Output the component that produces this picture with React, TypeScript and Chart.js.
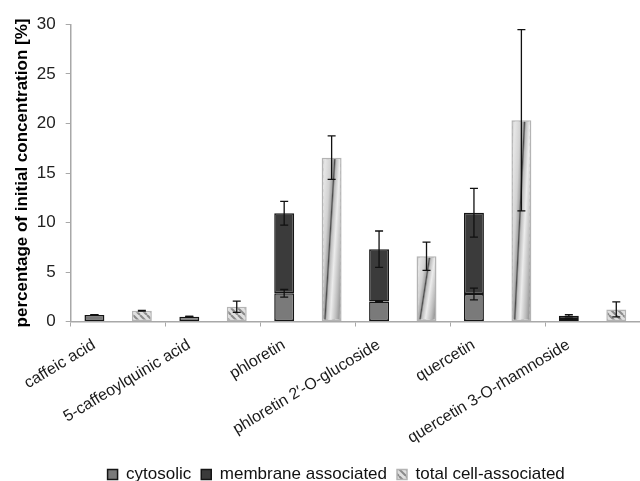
import React, { useEffect, useRef } from 'react';
import { Chart, registerables } from 'chart.js';

Chart.register(...registerables);

const categories = [
  'caffeic acid',
  '5-caffeoylquinic acid',
  'phloretin',
  'phloretin 2\u2032-O-glucoside',
  'quercetin',
  'quercetin 3-O-rhamnoside',
];
const seriesNames = ['cytosolic', 'membrane associated', 'total cell-associated'];
const cytosolic = [0.66, 0.47, 2.85, 2.03, 2.78, 0.25];
const membrane = [0.0, 0.0, 8.09, 5.27, 8.2, 0.33];
const total = [1.08, 1.49, 16.55, 6.59, 20.33, 1.22];
const cytosolicErr = [0.03, 0.04, 0.38, 0.04, 0.6, 0.02];
const stackTopErr = [0.03, 0.04, 1.2, 1.84, 2.46, 0.1];
const totalErr = [0.03, 0.56, 2.2, 1.43, 9.15, 0.76];
const yMin = 0;
const yMax = 30;
const yStep = 5;

const FONT = '"Liberation Sans", Arial, sans-serif';

function makeHatch(): CanvasPattern | string {
  const c = document.createElement('canvas');
  c.width = 7;
  c.height = 7;
  const g = c.getContext('2d');
  if (!g) return '#dddddd';
  g.fillStyle = '#e0e0e0';
  g.fillRect(0, 0, 7, 7);
  g.strokeStyle = '#8a8a8a';
  g.lineWidth = 2;
  for (const off of [-7, 0, 7]) {
    g.beginPath();
    g.moveTo(off, 0);
    g.lineTo(off + 7, 7);
    g.stroke();
  }
  const p = g.createPattern(c, 'repeat');
  return p || '#dddddd';
}

const errorBarPlugin = {
  id: 'errorBars',
  afterDatasetsDraw(chart: any) {
    const ctx = chart.ctx;
    const y = chart.scales.y;
    ctx.save();
    ctx.strokeStyle = '#111111';
    ctx.lineWidth = 1.3;
    chart.data.datasets.forEach((ds: any, di: number) => {
      const meta = chart.getDatasetMeta(di);
      const tops: number[] = ds.errTops;
      const errs: number[] = ds.errValues;
      if (!tops || !errs) return;
      meta.data.forEach((el: any, i: number) => {
        const x = el.x;
        const hi = y.getPixelForValue(tops[i] + errs[i]);
        const lo = y.getPixelForValue(Math.max(0, tops[i] - errs[i]));
        const cap = 4;
        ctx.beginPath();
        ctx.moveTo(x, hi);
        ctx.lineTo(x, lo);
        ctx.moveTo(x - cap, hi);
        ctx.lineTo(x + cap, hi);
        ctx.moveTo(x - cap, lo);
        ctx.lineTo(x + cap, lo);
        ctx.stroke();
      });
    });
    ctx.restore();
  },
};

const totalFillPlugin = {
  id: 'totalFill',
  afterDatasetDraw(chart: any, args: any) {
    if (args.index !== 2) return;
    const ctx = chart.ctx;
    args.meta.data.forEach((el: any) => {
      const p = el.getProps(['x', 'y', 'base', 'width'], true);
      const left = p.x - p.width / 2;
      const right = p.x + p.width / 2;
      const top = Math.min(p.y, p.base);
      const bottom = Math.max(p.y, p.base);
      const w = right - left;
      const h = bottom - top;
      if (h < 40) return;
      const bw = 1.5;
      const cx = (left + right) / 2;
      const cy = (top + bottom) / 2;
      const nx = h;
      const ny = 0.5 * w;
      const norm = Math.hypot(nx, ny);
      const ux = nx / norm;
      const uy = ny / norm;
      const L = (Math.abs(ux) * w + Math.abs(uy) * h) / 2;
      const g = ctx.createLinearGradient(cx - ux * L, cy - uy * L, cx + ux * L, cy + uy * L);
      g.addColorStop(0.0, '#c6c6c6');
      g.addColorStop(0.12, '#e6e6e6');
      g.addColorStop(0.3, '#d2d2d2');
      g.addColorStop(0.4, '#a8a8a8');
      g.addColorStop(0.44, '#4a4a4a');
      g.addColorStop(0.49, '#bcbcbc');
      g.addColorStop(0.62, '#ececec');
      g.addColorStop(0.8, '#bdbdbd');
      g.addColorStop(0.9, '#9c9c9c');
      g.addColorStop(1.0, '#d6d6d6');
      ctx.save();
      ctx.fillStyle = g;
      ctx.fillRect(left + bw, top + bw, w - 2 * bw, h - 2 * bw);
      ctx.restore();
    });
  },
};

const legendShiftPlugin = {
  id: 'legendShift',
  afterLayout(chart: any) {
    const lg = chart.legend;
    if (!lg) return;
    const dx = 12;
    lg.left += dx;
    lg.right += dx;
  },
};

export default function App() {
  const ref = useRef<HTMLCanvasElement | null>(null);

  useEffect(() => {
    document.body.style.margin = '0';
    document.body.style.overflow = 'hidden';
    const canvas = ref.current;
    if (!canvas) return;
    const hatch = makeHatch();
    const stackTops = cytosolic.map((c, i) => c + membrane[i]);

    const chart = new Chart(canvas, {
      type: 'bar',
      data: {
        labels: categories,
        datasets: [
          {
            label: seriesNames[0],
            data: cytosolic,
            stack: 'a',
            backgroundColor: '#7a7a7a',
            borderColor: '#151515',
            borderWidth: 1.5,
            borderSkipped: false,
            errTops: cytosolic,
            errValues: cytosolicErr,
          } as any,
          {
            label: seriesNames[1],
            data: membrane,
            stack: 'a',
            backgroundColor: '#3b3b3b',
            borderColor: '#151515',
            borderWidth: 1.5,
            borderSkipped: false,
            errTops: stackTops,
            errValues: stackTopErr,
          } as any,
          {
            label: seriesNames[2],
            data: total,
            stack: 'b',
            backgroundColor: hatch,
            borderColor: '#b4b4b4',
            borderWidth: 1.5,
            borderSkipped: false,
            errTops: total,
            errValues: totalErr,
          } as any,
        ],
      },
      options: {
        responsive: false,
        animation: false,
        devicePixelRatio: 1,
        categoryPercentage: 1.0,
        barPercentage: 0.42,
        layout: { padding: { left: 8.4, top: 24.5, right: 0, bottom: -12 } },
        font: { family: FONT },
        plugins: {
          tooltip: { enabled: false },
          legend: {
            position: 'bottom',
            labels: {
              boxWidth: 10,
              boxHeight: 10,
              padding: 10,
              color: '#111111',
              font: { family: FONT, size: 17 },
            },
          },
        },
        scales: {
          x: {
            stacked: true,
            afterFit(scale: any) {
              scale.paddingLeft = 0;
              scale.paddingRight = 0;
              scale.height = 134.5;
            },
            grid: {
              display: true,
              drawOnChartArea: false,
              drawTicks: true,
              tickLength: 5,
              color: '#a8a8a8',
              offset: true,
            },
            border: { display: true, color: '#a8a8a8', width: 1.5 },
            ticks: {
              autoSkip: false,
              maxRotation: 31,
              minRotation: 31,
              labelOffset: -24,
              padding: 9,
              color: '#1a1a1a',
              font: { family: FONT, size: 16 },
            },
          },
          y: {
            stacked: true,
            min: yMin,
            max: yMax,
            afterFit(scale: any) {
              scale.width = 62.3;
            },
            grid: {
              display: true,
              drawOnChartArea: false,
              drawTicks: true,
              tickLength: 5,
              color: '#a8a8a8',
            },
            border: { display: true, color: '#a8a8a8', width: 1.5 },
            ticks: {
              stepSize: yStep,
              padding: 10,
              color: '#222222',
              font: { family: FONT, size: 17 },
            },
            title: {
              display: true,
              text: 'percentage of initial concentration [%]',
              color: '#000000',
              font: { family: FONT, size: 17, weight: 'bold' },
              padding: { top: 4, bottom: 4 },
            },
          },
        },
      } as any,
      plugins: [totalFillPlugin, errorBarPlugin, legendShiftPlugin],
    });

    return () => {
      chart.destroy();
    };
  }, []);

  return (
    <div style={{ width: 640, height: 481 }}>
      <canvas ref={ref} width={640} height={481} style={{ display: 'block' }} />
    </div>
  );
}
